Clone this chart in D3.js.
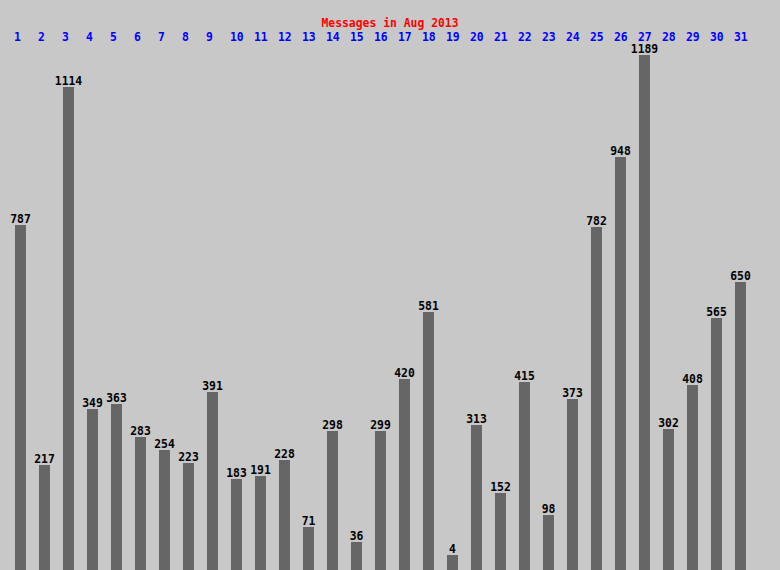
<!DOCTYPE html>
<html><head><meta charset="utf-8">
<script src="https://cdn.jsdelivr.net/npm/d3@7"></script>
<style>html,body{margin:0;padding:0;background:#c8c8c8;}svg{display:block;}</style>
</head><body>
<script>
const title = "Messages in Aug 2013";
const days = d3.range(1, 32).map(String);
const counts = [787,217,1114,349,363,283,254,223,391,183,191,228,71,298,36,299,420,581,4,313,152,415,98,373,782,948,1189,302,408,565,650];

const W = 780, H = 570;
const svg = d3.select("body").append("svg").attr("width", W).attr("height", H);
svg.append("rect").attr("width", W).attr("height", H).attr("fill", "#c8c8c8");

// step 24px, bar width 11px, first bar at x=15
const x = d3.scaleBand().domain(days).range([15, 15 + 24 * 31 - 13]).paddingInner(13/24).paddingOuter(0).align(0);
const y = d3.scaleLinear().domain([0, 1189]).range([556.7, 55]);
const font = "'DejaVu Sans Mono', 'Liberation Mono', monospace";
const fs = 11.4;

svg.append("text").attr("x", W / 2).attr("y", 27).attr("text-anchor", "middle")
  .attr("font-family", font).attr("font-weight", "bold").attr("font-size", fs)
  .attr("fill", "#ff0000").text(title);

svg.selectAll("text.day").data(days).enter().append("text").attr("class", "day")
  .attr("x", d => Math.round(x(d)) - 1).attr("y", 41)
  .attr("font-family", font).attr("font-weight", "bold").attr("font-size", fs)
  .attr("fill", "#0000ff").text(d => d);

svg.selectAll("rect.bar").data(counts).enter().append("rect").attr("class", "bar")
  .attr("x", (d, i) => Math.round(x(days[i]))).attr("width", Math.round(x.bandwidth()))
  .attr("y", d => Math.round(y(d))).attr("height", d => H - Math.round(y(d)))
  .attr("fill", "#666666");

svg.selectAll("text.val").data(counts).enter().append("text").attr("class", "val")
  .attr("x", (d, i) => Math.round(x(days[i])) + x.bandwidth() / 2).attr("y", d => Math.round(y(d)) - 2)
  .attr("text-anchor", "middle")
  .attr("font-family", font).attr("font-weight", "bold").attr("font-size", fs)
  .attr("fill", "#000000").text(d => d);
</script>
</body></html>
